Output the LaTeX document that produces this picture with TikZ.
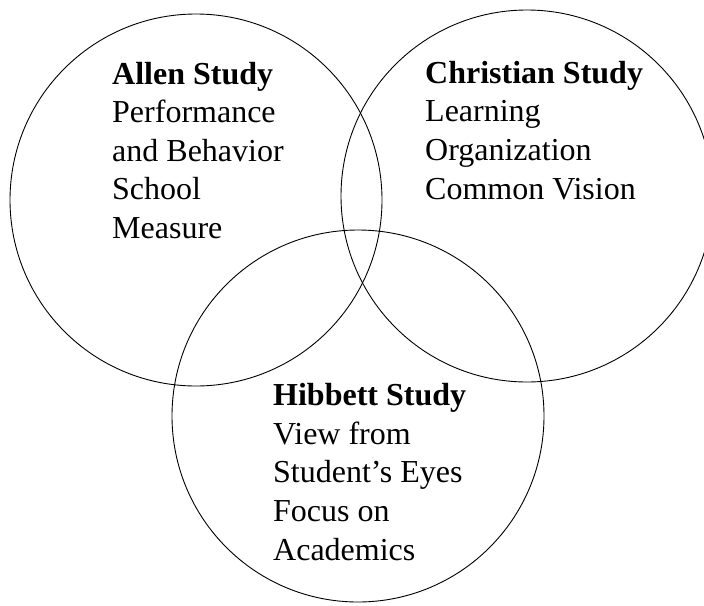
\documentclass[tikz,border=0pt]{standalone}
\usepackage{fontspec}
\setmainfont{Liberation Serif}
\begin{document}
\begin{tikzpicture}[x=1pt,y=-1pt,
  ring/.style={draw=black,line width=0.9pt},
  label/.style={anchor=base west,inner sep=0pt,align=left,
    font=\fontsize{32}{38.6}\selectfont}]
\useasboundingbox (0,0) rectangle (704,605);
\clip (0,0) rectangle (704,605);
\draw[ring] (196,200) circle[radius=186];
\draw[ring] (527,196) circle[radius=186];
\draw[ring] (358,416) circle[radius=186];
% base anchor of a multi-line node lies on its last line
\node[label] (allen) at (112,238.5) {\textbf{Allen Study}\\Performance\\and Behavior\\School\\Measure};
\node[label] (christian) at (425,199) {\textbf{Christian Study}\\Learning\\Organization\\Common Vision};
\node[label] (hibbett) at (273,560) {\textbf{Hibbett Study}\\View from\\Student’s Eyes\\Focus on\\Academics};
\end{tikzpicture}
\end{document}
